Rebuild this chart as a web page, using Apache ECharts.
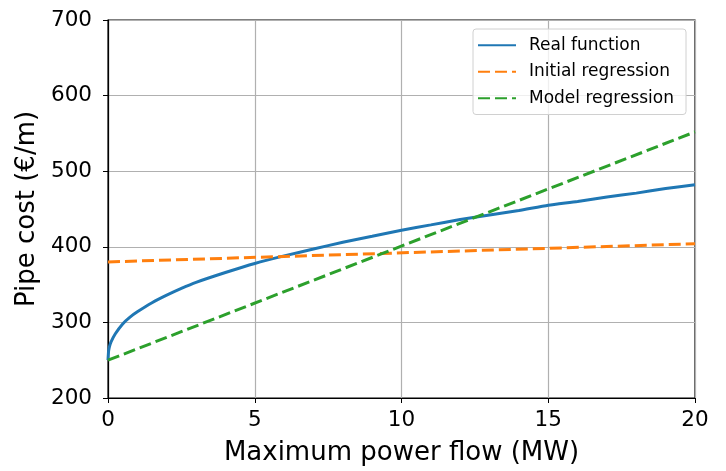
<!DOCTYPE html>
<html>
<head>
<meta charset="UTF-8">
<title>Pipe cost</title>
<style>
  html, body { margin: 0; padding: 0; background: #fff; }
  #main { width: 726px; height: 471px; }
</style>
</head>
<body>
<div id="main"></div>
<script src="https://cdn.jsdelivr.net/npm/echarts@6/dist/echarts.min.js"></script>
<script>
// values
var flowX = [0, 0.02, 0.05, 0.1, 0.25, 0.5, 0.75, 1, 1.5, 2, 2.5, 3, 4, 5, 6, 7, 8, 9, 10, 11, 12, 13, 14, 15, 16, 17, 18, 19, 20];
var realCost = [250, 262, 268, 274, 285, 298, 307, 314, 326, 336, 345, 353, 366, 378, 388, 397, 406, 414, 422, 429, 436, 442, 448, 455, 460, 466, 471, 477, 482];
var initialX = [0, 20];
var initialCost = [380, 404];
var modelX = [0, 20];
var modelCost = [250, 552];

function pairs(xs, ys) {
	return xs.map(function (x, i) { return [x, ys[i]]; });
}

var myChart = echarts.init(document.getElementById('main'));
var font = 'DejaVu Sans';

myChart.setOption({
	animation: false,
	textStyle: { fontFamily: font },
	grid: {
		left: 108, right: 31, top: 20, bottom: 70,
		show: true, borderColor: '#000', borderWidth: 1.2, backgroundColor: 'transparent'
	},
	legend: {
		orient: 'vertical',
		right: 40, top: 29,
		itemWidth: 38, itemHeight: 14, itemGap: 6,
		padding: [6, 12, 6, 4],
		borderColor: '#d0d0d0', borderWidth: 1, borderRadius: 3,
		backgroundColor: 'rgba(255,255,255,0.8)',
		itemStyle: { opacity: 0 },
		textStyle: { fontSize: 17, lineHeight: 20.5, color: '#000', fontFamily: font, padding: [0, 0, 0, 8] },
		data: ['Real function', 'Initial regression', 'Model regression']
	},
	xAxis: {
		type: 'value', min: 0, max: 20, interval: 5,
		name: 'Maximum power flow (MW)', nameLocation: 'middle', nameGap: 42,
		nameTextStyle: { fontSize: 26, color: '#000' },
		axisLine: { show: true, lineStyle: { color: '#000', width: 1.2 } },
		axisTick: { show: true, inside: false, length: 5, lineStyle: { color: '#000' } },
		axisLabel: { fontSize: 21.5, color: '#000', margin: 11 },
		splitLine: { show: true, lineStyle: { color: '#b0b0b0', width: 1.2 } }
	},
	yAxis: {
		type: 'value', min: 200, max: 700, interval: 100,
		name: 'Pipe cost (€/m)', nameLocation: 'middle', nameGap: 67,
		nameTextStyle: { fontSize: 26, color: '#000' },
		axisLine: { show: true, lineStyle: { color: '#000', width: 1.2 } },
		axisTick: { show: true, inside: false, length: 5, lineStyle: { color: '#000' } },
		axisLabel: { fontSize: 21.5, color: '#000', margin: 16 },
		splitLine: { show: true, lineStyle: { color: '#b0b0b0', width: 1.2 } }
	},
	series: [
		{
			name: 'Real function', type: 'line', showSymbol: false, symbol: 'none',
			smooth: 0.2,
			data: pairs(flowX, realCost),
			lineStyle: { color: '#1f77b4', width: 3 },
			itemStyle: { color: '#1f77b4' }
		},
		{
			name: 'Initial regression', type: 'line', showSymbol: false, symbol: 'none',
			data: pairs(initialX, initialCost),
			lineStyle: { color: '#ff7f0e', width: 3, type: [12, 5] },
			itemStyle: { color: '#ff7f0e' }
		},
		{
			name: 'Model regression', type: 'line', showSymbol: false, symbol: 'none',
			data: pairs(modelX, modelCost),
			lineStyle: { color: '#2ca02c', width: 3, type: [12, 5] },
			itemStyle: { color: '#2ca02c' }
		}
	]
});
</script>
</body>
</html>
